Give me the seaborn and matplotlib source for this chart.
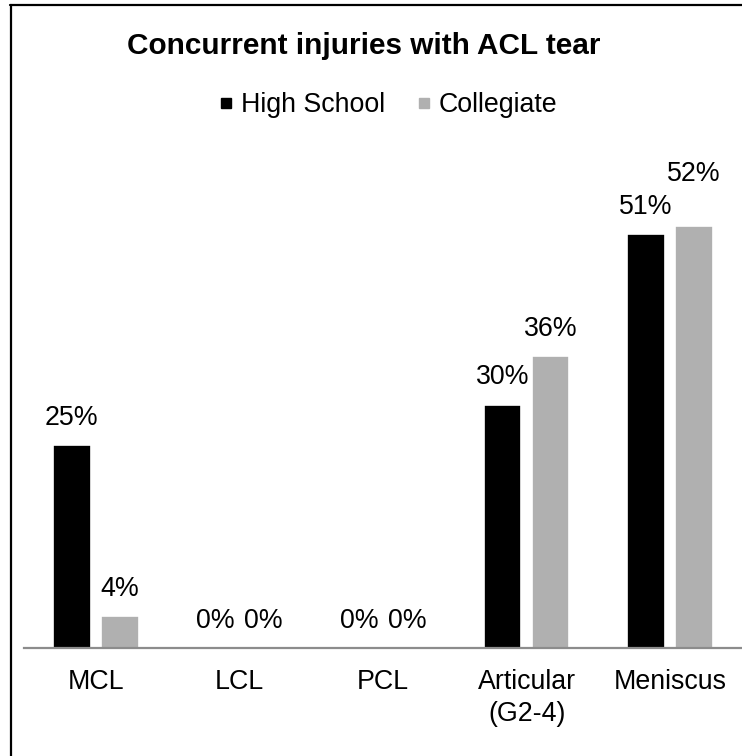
import matplotlib
matplotlib.use("Agg")
import matplotlib.pyplot as plt
import seaborn as sns
import pandas as pd
from matplotlib.lines import Line2D

categories = ["MCL", "LCL", "PCL", "Articular\n(G2-4)", "Meniscus"]
high_school = [25, 0, 0, 30, 51]
collegiate = [4, 0, 0, 36, 52]
series_names = ["High School", "Collegiate"]
colors = ["#000000", "#B0B0B0"]

df = pd.DataFrame({
    "cat": categories * 2,
    "val": high_school + collegiate,
    "series": [series_names[0]] * len(categories) + [series_names[1]] * len(categories),
})

sns.set_theme(style="white")
plt.rcParams["font.family"] = ["Liberation Sans", "DejaVu Sans"]
plt.rcParams["text.color"] = "#000000"

W, H = 742, 756
FS = 19.3
fig = plt.figure(figsize=(W / 100, H / 100), dpi=100)
ax = fig.add_axes([24 / W, 1 - 648 / H, (742 - 24) / W, (648 - 161) / H])

sns.barplot(data=df, x="cat", y="val", hue="series", palette=colors,
            width=0.67, gap=0.22, edgecolor="white", linewidth=1.2,
            legend=False, ax=ax)

ax.set_ylim(0, 60)
ax.set_xlim(-0.5, len(categories) - 0.5)
ax.set_xlabel("")
ax.set_ylabel("")
ax.set_yticks([])
for s in ["top", "left", "right"]:
    ax.spines[s].set_visible(False)
ax.spines["bottom"].set_color("#8C8C8C")
ax.spines["bottom"].set_linewidth(1.6)
ax.tick_params(axis="x", length=0, pad=15, labelsize=FS, labelcolor="#000000")
for t in ax.get_xticklabels():
    t.set_linespacing(1.32)
    t.set_va("top")

# data labels
for container, vals in zip(ax.containers, [high_school, collegiate]):
    for bar, v in zip(container, vals):
        x = bar.get_x() + bar.get_width() / 2
        off = 27
        if v == 52:
            off = 52
        ax.annotate(f"{v}%", (x, bar.get_height()), xytext=(0, off * 0.72),
                    textcoords="offset points", ha="center", va="center",
                    fontsize=FS, color="#000000", clip_on=False)

# title
fig.text(364 / W, 1 - 46 / H, "Concurrent injuries with ACL tear",
         ha="center", va="center", fontsize=21.4, fontweight="bold", color="#000000")

# legend
handles = [Line2D([], [], marker="s", linestyle="none", markersize=7.5,
                  markerfacecolor=c, markeredgecolor=c) for c in colors]
fig.legend(handles, series_names, loc="center", bbox_to_anchor=(387 / W, 1 - 105 / H),
           ncol=2, frameon=False, fontsize=FS, handletextpad=0.2,
           columnspacing=1.1, handlelength=0.7, labelcolor="#000000")

# border frame (top and left edges)
fig.add_artist(Line2D([10.5 / W, 10.5 / W], [0, 1 - 5 / H], transform=fig.transFigure,
                      color="#000000", linewidth=1.6))
fig.add_artist(Line2D([10 / W, 1], [1 - 5 / H, 1 - 5 / H], transform=fig.transFigure,
                      color="#000000", linewidth=1.6))

fig.savefig("out.png", dpi=100)
